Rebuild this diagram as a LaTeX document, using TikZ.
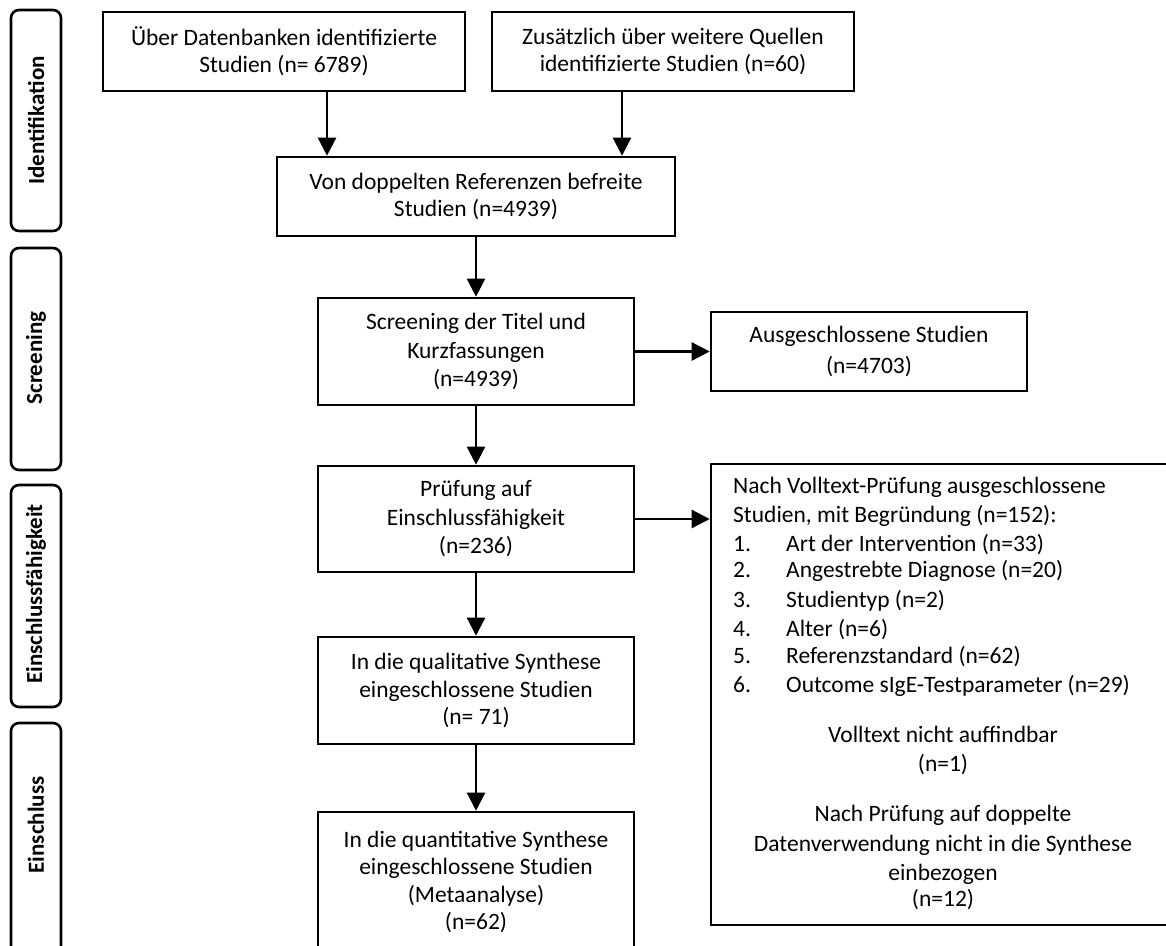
\documentclass[tikz,border=0pt]{standalone}
\usepackage{fontspec}
\setmainfont{Carlito}
\usetikzlibrary{arrows.meta,calc}
\begin{document}
\begin{tikzpicture}[x=1pt,y=-1pt,
  lw/.style={line width=2.6pt},
  box/.style={draw, lw, inner sep=0pt, align=center, font=\fontsize{23.5}{27}\selectfont},
  phase/.style={draw, lw, rounded corners=8pt, inner sep=0pt, rotate=90, minimum height=50pt},
  phasetext/.style={rotate=90, font=\bfseries\fontsize{23}{26}\selectfont, inner sep=0pt},
  txt/.style={inner sep=0pt, font=\fontsize{23.5}{27}\selectfont},
  arr/.style={line width=2.4pt, -{Triangle[length=18pt,width=18pt]}}]
\useasboundingbox (0,0) rectangle (1166,945);
\fill[white] (0,0) rectangle (1166,945);
\clip (0,0) rectangle (1166,945);

% phase labels
\node[phase, minimum width=221pt] (p1) at (36,120.5) {};
\node[phasetext] (p1t) at (p1) {Identifikation};
\node[phase, minimum width=222pt] (p2) at (36,359) {};
\node[phasetext] (p2t) at (36,358) {Screening};
\node[phase, minimum width=222pt] (p3) at (36,596) {};
\node[phasetext] (p3t) at (36,594) {Einschlussfähigkeit};
\node[phase, minimum width=232pt] (p4) at (36,839) {};
\node[phasetext] (p4t) at (36,825) {Einschluss};

% main boxes
\node[box, minimum width=362pt, minimum height=79pt] (b1) at (284,51.5)
  {Über Datenbanken identifizierte\\Studien (n= 6789)};
\node[box, minimum width=362pt, minimum height=79pt] (b2) at (673,51.5)
  {Zusätzlich über weitere Quellen\\identifizierte Studien (n=60)};
\node[box, minimum width=398pt, minimum height=79pt] (b3) at (476,196.5)
  {Von doppelten Referenzen befreite\\Studien (n=4939)};
\node[box, minimum width=316pt, minimum height=107pt, font=\fontsize{23.5}{28.5}\selectfont] (b4) at (476,351.5)
  {Screening der Titel und\\Kurzfassungen\\(n=4939)};
\node[box, minimum width=316pt, minimum height=106pt, font=\fontsize{23.5}{28.5}\selectfont] (b5) at (476,519)
  {Prüfung auf\\Einschlussfähigkeit\\(n=236)};
\node[box, minimum width=316pt, minimum height=107pt, font=\fontsize{23.5}{27.5}\selectfont] (b6) at (476,690.5)
  {In die qualitative Synthese\\eingeschlossene Studien\\(n= 71)};
\node[box, minimum width=316pt, minimum height=140pt, font=\fontsize{23.5}{27.5}\selectfont] (b7) at (476,882)
  {In die quantitative Synthese\\eingeschlossene Studien\\(Metaanalyse)\\(n=62)};
\node[box, minimum width=316pt, minimum height=79pt, font=\fontsize{23.5}{31}\selectfont] (ex1) at (869,351.5)
  {Ausgeschlossene Studien\\(n=4703)};
\node[draw, lw, inner sep=0pt, minimum width=470pt, minimum height=461pt] (ex2) at (946,694.5) {};

% text of the right box
\node[txt, anchor=mid west] (e0) at (733,491) {Nach Volltext-Prüfung ausgeschlossene};
\node[txt, anchor=mid west] (e1) at (733,520) {Studien, mit Begründung (n=152):};
\foreach \n/\y/\t in {1/549/Art der Intervention (n=33),
                      2/575/Angestrebte Diagnose (n=20),
                      3/605/Studientyp (n=2),
                      4/634/Alter (n=6),
                      5/661/Referenzstandard (n=62),
                      6/690/Outcome sIgE-Testparameter (n=29)}{
  \node[txt, anchor=mid west] (num\n) at (733,\y) {\n.};
  \node[txt, anchor=mid west] (item\n) at (786,\y) {\t};
}
\node[txt, anchor=mid] (v1) at (943,740) {Volltext nicht auffindbar};
\node[txt, anchor=mid] (v2) at (943,769) {(n=1)};
\node[txt, anchor=mid] (d1) at (943,819) {Nach Prüfung auf doppelte};
\node[txt, anchor=mid] (d2) at (943,849) {Datenverwendung nicht in die Synthese};
\node[txt, anchor=mid] (d3) at (943,878) {einbezogen};
\node[txt, anchor=mid] (d4) at (943,904) {(n=12)};

% connectors
\draw[arr] ([xshift=43pt]b1.south) -- ([xshift=43pt]b1.south |- b3.north);
\draw[arr] ([xshift=-51pt]b2.south) -- ([xshift=-51pt]b2.south |- b3.north);
\draw[arr] (b3.south) -- (b4.north);
\draw[arr] (b4.south) -- (b5.north);
\draw[arr] (b5.south) -- (b6.north);
\draw[arr] (b6.south) -- (b7.north);
\draw[arr] (b4.east) -- (ex1.west);
\draw[arr] (b5.east) -- (b5.east -| ex2.west);
\end{tikzpicture}
\end{document}
